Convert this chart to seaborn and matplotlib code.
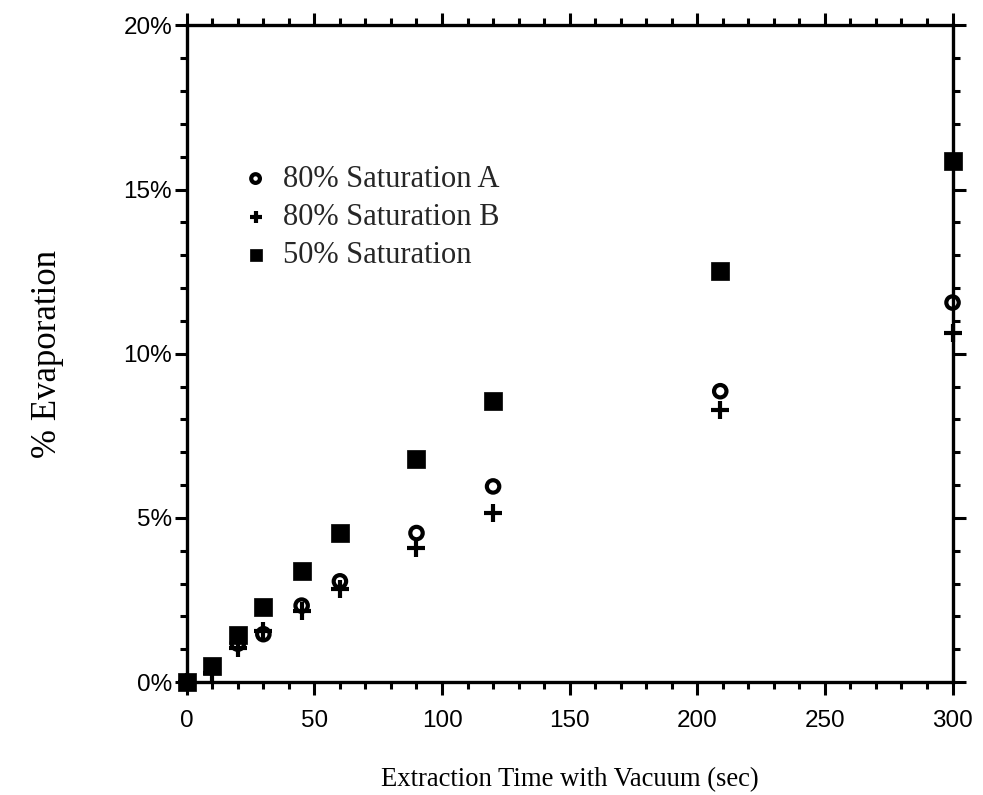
import matplotlib
matplotlib.use("Agg")
import matplotlib.pyplot as plt
import seaborn as sns
import pandas as pd
from matplotlib.ticker import MultipleLocator, FuncFormatter

time_a = [0, 20, 30, 45, 60, 90, 120, 209, 300]
sat80_a = [0.0, 1.17, 1.46, 2.33, 3.07, 4.54, 5.96, 8.86, 11.56]

time_b = [0, 10, 20, 30, 45, 60, 90, 120, 209, 300]
sat80_b = [0.0, 0.27, 1.05, 1.57, 2.18, 2.85, 4.09, 5.16, 8.28, 10.62]

time_c = [0, 10, 20, 30, 45, 60, 90, 120, 209, 300]
sat50 = [0.0, 0.49, 1.45, 2.28, 3.39, 4.54, 6.78, 8.55, 12.53, 15.88]

labels = ["80% Saturation A", "80% Saturation B", "50% Saturation"]
x_ticks = [0, 50, 100, 150, 200, 250, 300]
y_ticks = [0, 5, 10, 15, 20]

sns.set_theme(style="white")
plt.rcParams['font.family'] = ['Liberation Sans', 'DejaVu Sans']

fig = plt.figure(figsize=(9.83, 7.95), dpi=100)
ax = fig.add_axes([0.190, 0.142, 0.779, 0.826])

df_a = pd.DataFrame({"t": time_a, "v": sat80_a})
df_b = pd.DataFrame({"t": time_b, "v": sat80_b})
df_c = pd.DataFrame({"t": time_c, "v": sat50})

sns.scatterplot(data=df_c, x="t", y="v", ax=ax, marker="s", s=150, color="black",
                edgecolor="black", linewidth=0.5, label=labels[2], clip_on=False, zorder=3)
sns.scatterplot(data=df_a, x="t", y="v", ax=ax, marker="o", s=80, facecolor="none",
                edgecolor="black", linewidth=3, label=labels[0], clip_on=False, zorder=4)
sns.scatterplot(data=df_b, x="t", y="v", ax=ax, marker="+", s=170, color="black",
                linewidth=3, label=labels[1], clip_on=False, zorder=5)

ax.set_xlim(0, 300)
ax.set_ylim(0, 20)
ax.set_xticks(x_ticks)
ax.set_yticks(y_ticks)
ax.xaxis.set_minor_locator(MultipleLocator(10))
ax.yaxis.set_minor_locator(MultipleLocator(1))
ax.yaxis.set_major_formatter(FuncFormatter(lambda v, p: f"{int(v)}%"))

for sp in ax.spines.values():
    sp.set_visible(True)
    sp.set_color("black")
    sp.set_linewidth(2.4)

ax.tick_params(which="both", direction="out", top=True, right=True,
               bottom=True, left=True, color="black", width=2.2)
ax.tick_params(which="major", length=9, labelsize=17.5)
ax.tick_params(axis="x", which="major", pad=11)
ax.tick_params(axis="y", which="major", pad=1.5)
ax.tick_params(which="minor", length=5)
for t in ax.get_xticklabels() + ax.get_yticklabels():
    t.set_color("black")

ax.set_xlabel("Extraction Time with Vacuum (sec)", fontfamily="Liberation Serif",
              fontsize=19.2, labelpad=25, color="black")
ax.set_ylabel("% Evaporation", fontfamily="Liberation Serif", fontsize=25,
              labelpad=43, color="black")

handles, labs = ax.get_legend_handles_labels()
order = [labs.index(l) for l in labels]
leg = ax.legend([handles[i] for i in order], [labs[i] for i in order],
                loc="upper left", bbox_to_anchor=(0.03, 0.83), frameon=False,
                prop={"family": "Liberation Serif", "size": 22},
                handletextpad=0.3, handlelength=1.2, labelspacing=0.3,
                markerscale=0.7)

fig.savefig("out.png", dpi=100, facecolor="white")
